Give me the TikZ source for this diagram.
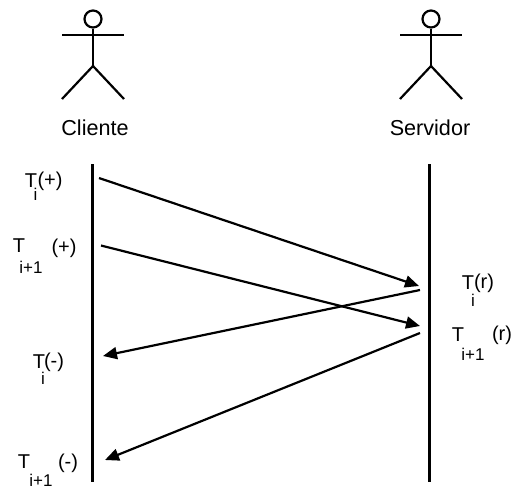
\documentclass[tikz,border=0pt]{standalone}
\usepackage{fontspec}
\setmainfont{Liberation Sans}
\usetikzlibrary{arrows.meta}
\tikzset{
  stroke/.style={line width=2.2pt},
  msg/.style={line width=2.2pt,-{Triangle[length=14pt,width=12pt]}},
  actorname/.style={font=\fontsize{21.6}{24}\selectfont,inner sep=0pt},
  bigtext/.style={font=\fontsize{20}{22}\selectfont,inner sep=0pt},
  subtext/.style={font=\fontsize{17}{20}\selectfont,inner sep=0pt},
  headnode/.style={circle,draw,line width=2.2pt,minimum size=17pt,inner sep=0pt}
}
\begin{document}
\begin{tikzpicture}[x=1pt,y=-1pt]
  \useasboundingbox (0,0) rectangle (511,488);
  % actors
  \foreach \who/\px in {client/93,server/431} {
    \node[headnode] (\who head) at (\px,19) {};
    \coordinate (\who hip) at (\px,66);
    \draw[stroke] (\who head) -- (\who hip);
    \draw[stroke] (\px-31,35) -- (\px+31,35);
    \draw[stroke] (\px-31,99) -- (\who hip) -- (\px+31,99);
  }
  \node[actorname] (cliente) at (95,128) {Cliente};
  \node[actorname] (servidor) at (430,128) {Servidor};
  % time lines
  \coordinate (ctop) at (92.5,164);
  \coordinate (cbot) at (92.5,482);
  \coordinate (stop) at (429.5,164);
  \coordinate (sbot) at (429.5,482);
  \draw[stroke] (ctop) -- (cbot);
  \draw[stroke] (stop) -- (sbot);
  % messages
  \coordinate (a1) at (99,178);
  \coordinate (b1) at (419,286);
  \coordinate (a2) at (101,245.5);
  \coordinate (b2) at (420,326);
  \coordinate (a3) at (420,290);
  \coordinate (b3) at (103,356);
  \coordinate (a4) at (420,333);
  \coordinate (b4) at (105,460);
  \draw[msg] (a1) -- (b1);
  \draw[msg] (a2) -- (b2);
  \draw[msg] (a3) -- (b3);
  \draw[msg] (a4) -- (b4);
  % labels
  \node[bigtext] (t1) at (31,180.5) {T};
  \node[subtext] (t1i) at (35.5,194) {i};
  \node[bigtext] (t1p) at (50,181) {(+)};
  \node[bigtext] (t2) at (19,245.5) {T};
  \node[subtext] (t2i) at (31,267) {i+1};
  \node[bigtext] (t2p) at (64,248) {(+)};
  \node[bigtext] (t3) at (39,361.5) {T};
  \node[subtext] (t3i) at (43,378) {i};
  \node[bigtext] (t3p) at (54,362) {(-)};
  \node[bigtext] (t4) at (24,461.5) {T};
  \node[subtext] (t4i) at (41,480) {i+1};
  \node[bigtext] (t4p) at (68,463) {(-)};
  \node[bigtext] (r1) at (468,282.5) {T};
  \node[subtext] (r1i) at (473,300) {i};
  \node[bigtext] (r1p) at (484,283) {(r)};
  \node[bigtext] (r2) at (458,334.5) {T};
  \node[subtext] (r2i) at (473,354) {i+1};
  \node[bigtext] (r2p) at (502,335) {(r)};
\end{tikzpicture}
\end{document}
